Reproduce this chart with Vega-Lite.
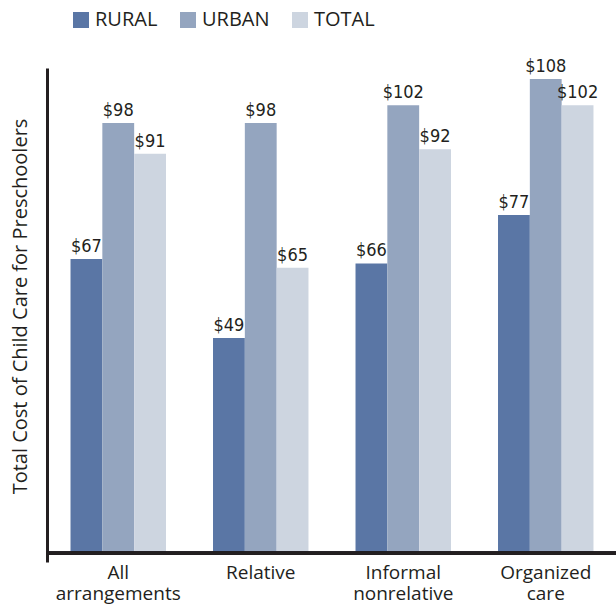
{
  "$schema": "https://vega.github.io/schema/vega-lite/v6.json",
  "width": 570,
  "height": 494,
  "autosize": {"type": "none"},
  "padding": {"left": 47, "top": 68, "right": 0, "bottom": 42},
  "background": "white",
  "config": {"view": {"stroke": null}, "font": "Open Sans"},
  "data": {
    "values": [
      {"arrangement": "All arrangements", "area": "RURAL", "cost": 67},
      {"arrangement": "All arrangements", "area": "URBAN", "cost": 98},
      {"arrangement": "All arrangements", "area": "TOTAL", "cost": 91},
      {"arrangement": "Relative", "area": "RURAL", "cost": 49},
      {"arrangement": "Relative", "area": "URBAN", "cost": 98},
      {"arrangement": "Relative", "area": "TOTAL", "cost": 65},
      {"arrangement": "Informal nonrelative", "area": "RURAL", "cost": 66},
      {"arrangement": "Informal nonrelative", "area": "URBAN", "cost": 102},
      {"arrangement": "Informal nonrelative", "area": "TOTAL", "cost": 92},
      {"arrangement": "Organized care", "area": "RURAL", "cost": 77},
      {"arrangement": "Organized care", "area": "URBAN", "cost": 108},
      {"arrangement": "Organized care", "area": "TOTAL", "cost": 102}
    ]
  },
  "layer": [
    {
      "mark": {"type": "bar"},
      "encoding": {
        "x": {
          "field": "arrangement",
          "type": "nominal",
          "sort": null,
          "scale": {"paddingInner": 0.33, "paddingOuter": 0.165},
          "axis": {
            "title": null,
            "domain": false,
            "ticks": false,
            "labelAngle": 0,
            "labelFont": "Open Sans",
            "labelFontSize": 19,
            "labelColor": "#231f20",
            "labelPadding": 1,
            "labelLineHeight": 21,
            "labelBaseline": "top",
            "labelExpr": "datum.value == 'Relative' ? 'Relative' : split(datum.value, ' ')"
          }
        },
        "xOffset": {"field": "area", "type": "nominal", "sort": ["RURAL", "URBAN", "TOTAL"]},
        "y": {
          "field": "cost",
          "type": "quantitative",
          "scale": {"domain": [-2, 110.5], "nice": false, "zero": false},
          "axis": {
            "title": "Total Cost of Child Care for Preschoolers",
            "titleFont": "Open Sans",
            "titleFontSize": 20,
            "titleFontWeight": "normal",
            "titleColor": "#231f20",
            "titlePadding": 17,
            "titleY": 238,
            "domain": true,
            "domainWidth": 3,
            "domainColor": "#231f20",
            "ticks": false,
            "labels": false,
            "grid": false
          }
        },
        "y2": {"datum": 0},
        "color": {
          "field": "area",
          "type": "nominal",
          "sort": ["RURAL", "URBAN", "TOTAL"],
          "scale": {"domain": ["RURAL", "URBAN", "TOTAL"], "range": ["#5a76a5", "#94a5bf", "#cdd5e0"]},
          "legend": {
            "title": null,
            "orient": "none",
            "direction": "horizontal",
            "legendX": 24,
            "legendY": -58,
            "padding": 0,
            "symbolType": "square",
            "symbolSize": 256,
            "symbolStrokeWidth": 0,
            "symbolOpacity": 1,
            "labelFont": "Open Sans",
            "labelFontSize": 20,
            "labelColor": "#231f20",
            "labelOffset": 4,
            "columnPadding": 20
          }
        }
      }
    },
    {
      "mark": {"type": "text", "baseline": "alphabetic", "dy": -7, "font": "DejaVu Sans Condensed", "fontSize": 18, "color": "#231f20"},
      "encoding": {
        "x": {"field": "arrangement", "type": "nominal", "sort": null},
        "xOffset": {"field": "area", "type": "nominal", "sort": ["RURAL", "URBAN", "TOTAL"]},
        "y": {"field": "cost", "type": "quantitative"},
        "text": {"field": "cost", "type": "quantitative", "format": "$.0f"}
      }
    },
    {
      "mark": {"type": "rule", "strokeWidth": 3, "color": "#231f20"},
      "encoding": {"y": {"datum": 0}}
    }
  ]
}
